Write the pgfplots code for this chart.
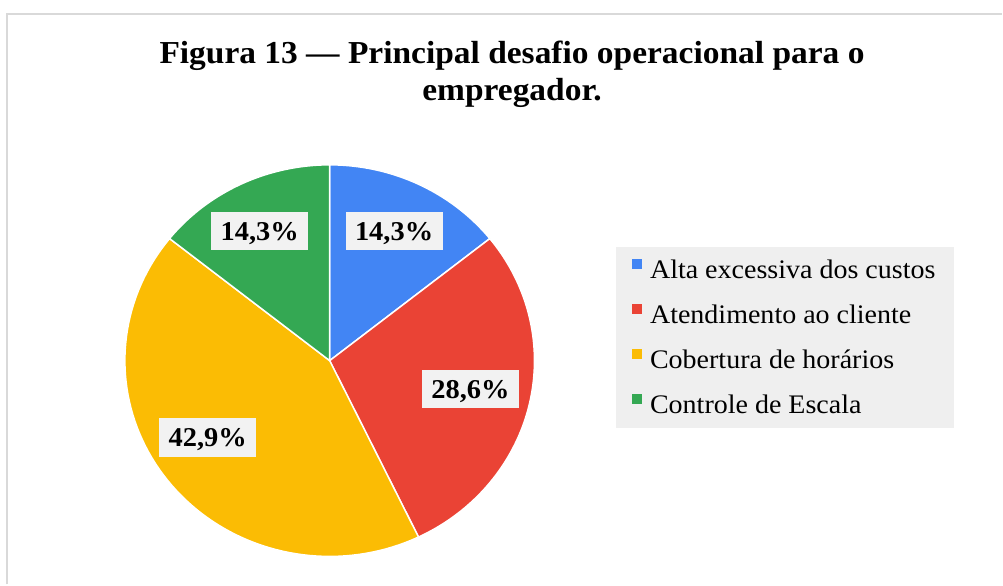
\documentclass[border=0pt]{standalone}
\usepackage{pgfplots}
\pgfplotsset{compat=1.18}
\usepackage{fontspec}
\setmainfont{Liberation Serif}[FakeStretch=1.046]
\definecolor{cblue}{HTML}{4285F4}
\definecolor{cred}{HTML}{EA4335}
\definecolor{cyellow}{HTML}{FBBC04}
\definecolor{cgreen}{HTML}{34A853}
\definecolor{lblbg}{HTML}{F2F2F2}
\definecolor{legbg}{HTML}{EFEFEF}
\definecolor{framec}{HTML}{D9D9D9}
% slice values (percent)
\def\vA{14.3}\def\vB{28.6}\def\vC{42.9}\def\vD{14.3}
\pgfmathsetmacro\tot{\vA+\vB+\vC+\vD}
\pgfmathsetmacro\aA{90}
\pgfmathsetmacro\aB{\aA-360*\vA/\tot}
\pgfmathsetmacro\aC{\aB-360*\vB/\tot}
\pgfmathsetmacro\aD{\aC-360*\vC/\tot}
\pgfmathsetmacro\aE{\aD-360*\vD/\tot}
\begin{document}
\begin{tikzpicture}
\begin{axis}[
  scale only axis, width=1003bp, height=585bp,
  xmin=0, xmax=1003, ymin=0, ymax=585,
  hide axis, clip=false,
  legend image code/.code={\fill[#1,draw=none] (0bp,3bp) rectangle (10.5bp,13.5bp);},
  legend style={at={(0.6301,0.5573)}, anchor=north west, draw=none, fill=none,
    inner sep=0pt, row sep=19.5bp, column sep=8bp,
    font=\fontsize{26.8bp}{30bp}\selectfont,
    nodes={inner sep=0pt, text height=18bp, text depth=6bp}},
  legend cell align=left,
]
\path (0,0) rectangle (1003,585);
\draw[framec, line width=2bp] (7,0) -- (7,571) -- (1003,571);
\fill[legbg] (617,338) rectangle (955,157);
\addplot[fill=cblue, draw=white, line width=1.5bp, domain=\aB:\aA, samples=80]
  ({330+205*cos(x)},{224+196*sin(x)}) -- (330,224) -- cycle;
\addlegendentry{Alta excessiva dos custos}
\addplot[fill=cred, draw=white, line width=1.5bp, domain=\aC:\aB, samples=80]
  ({330+205*cos(x)},{224+196*sin(x)}) -- (330,224) -- cycle;
\addlegendentry{Atendimento ao cliente}
\addplot[fill=cyellow, draw=white, line width=1.5bp, domain=\aD:\aC, samples=80]
  ({330+205*cos(x)},{224+196*sin(x)}) -- (330,224) -- cycle;
\addlegendentry{Cobertura de horários}
\addplot[fill=cgreen, draw=white, line width=1.5bp, domain=\aE:\aD, samples=80]
  ({330+205*cos(x)},{224+196*sin(x)}) -- (330,224) -- cycle;
\addlegendentry{Controle de Escala}
\tikzset{lbl/.style={fill=lblbg, inner xsep=9.5bp, inner ysep=10bp, text height=18.5bp, text depth=0bp,
  font=\fontsize{27.2bp}{30bp}\selectfont\bfseries}}
\node[lbl] at (394.5,354) {14,3\%};
\node[lbl] at (260,354) {14,3\%};
\node[lbl] at (471,195.5) {28,6\%};
\node[lbl] at (208,147) {42,9\%};
\node[anchor=base, font=\fontsize{32bp}{37bp}\selectfont\bfseries] at (512.5,521.7)
  {Figura 13 — Principal desafio operacional para o};
\node[anchor=base, font=\fontsize{32bp}{37bp}\selectfont\bfseries] at (512.5,484)
  {empregador.};
\end{axis}
\end{tikzpicture}
\end{document}
